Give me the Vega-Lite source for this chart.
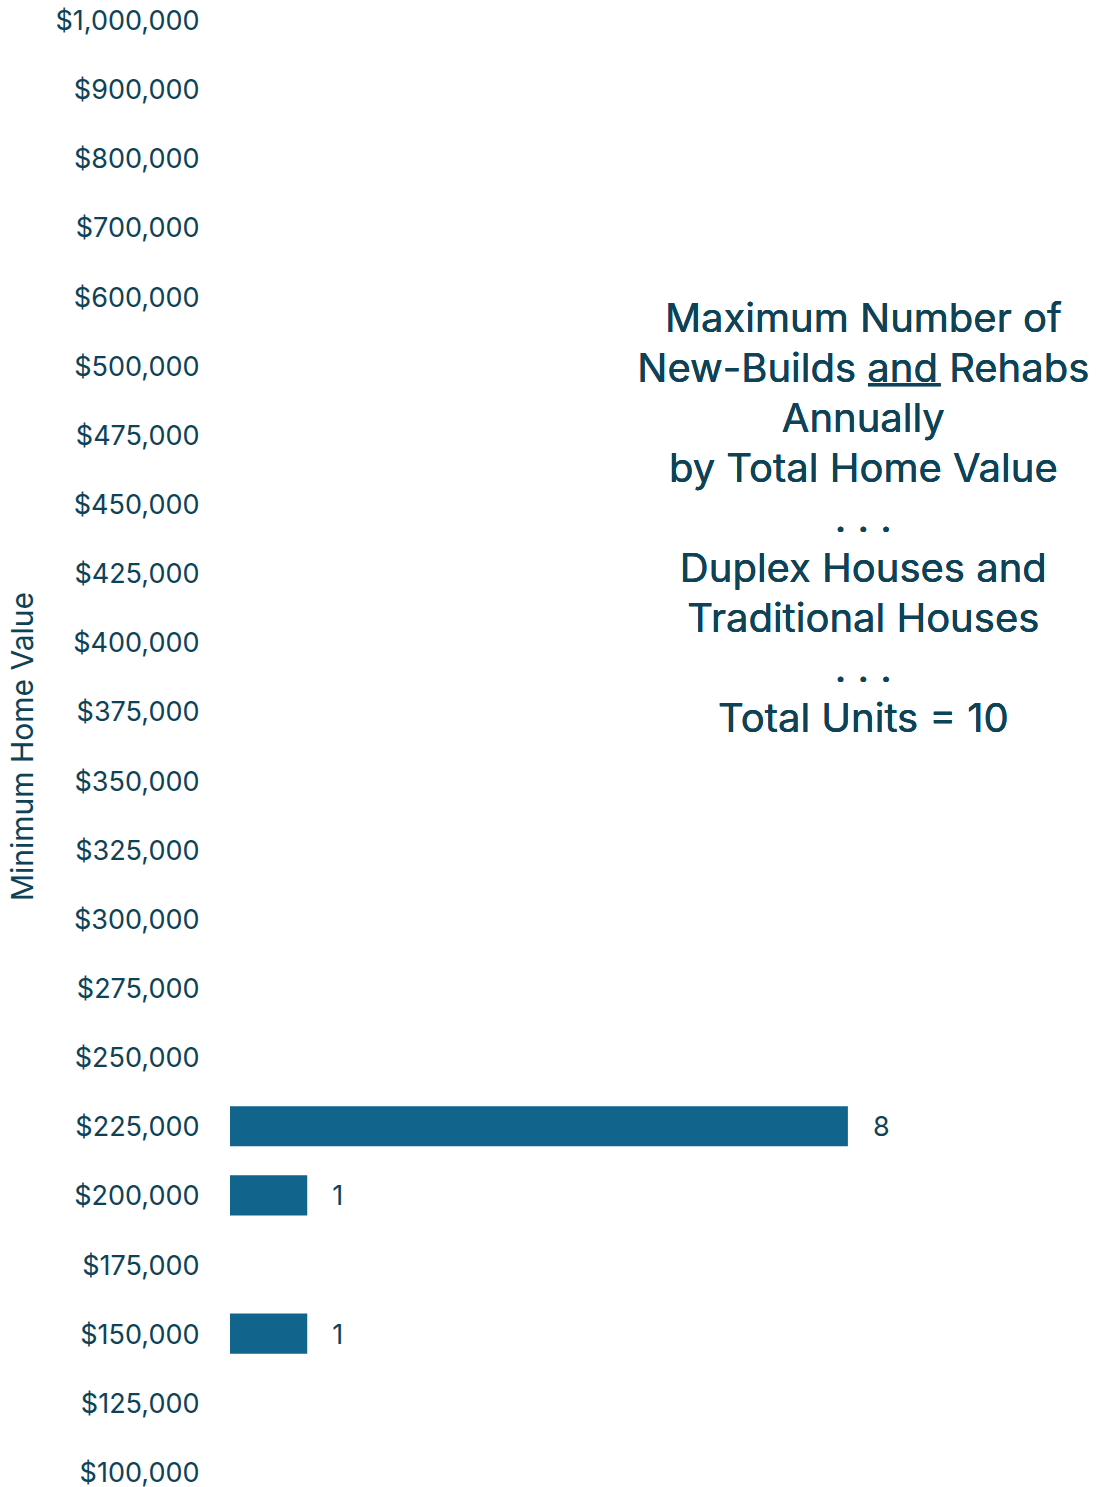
{
  "$schema": "https://vega.github.io/schema/vega-lite/v6.json",
  "width": 872,
  "height": 1492,
  "padding": {"left": 8, "top": 0, "right": 0, "bottom": 0},
  "autosize": {"type": "pad"},
  "background": "#ffffff",
  "config": {"view": {"stroke": null}, "font": "Inter"},
  "data": {"values": [
    {"value": "$225,000", "units": 8},
    {"value": "$200,000", "units": 1},
    {"value": "$150,000", "units": 1}
  ]},
  "encoding": {
    "y": {
      "field": "value", "type": "nominal",
      "scale": {"domain": ["$1,000,000","$900,000","$800,000","$700,000","$600,000","$500,000","$475,000","$450,000","$425,000","$400,000","$375,000","$350,000","$325,000","$300,000","$275,000","$250,000","$225,000","$200,000","$175,000","$150,000","$125,000","$100,000"], "paddingInner": 0.42, "paddingOuter": 0},
      "axis": {"title": "Minimum Home Value", "titleFont": "Inter", "titleFontSize": 30, "titleFontWeight": "normal", "titleColor": "#0d4257", "titlePadding": 16, "labelFont": "Inter", "labelFontSize": 27, "labelColor": "#0d4257", "labelPadding": 31, "labelOffset": 2, "ticks": false, "domain": false, "grid": false}
    },
    "x": {
      "field": "units", "type": "quantitative",
      "scale": {"domain": [0, 11.29], "nice": false},
      "axis": null
    }
  },
  "layer": [
    {"mark": {"type": "bar", "color": "#11648b"}},
    {"mark": {"type": "text", "align": "left", "baseline": "middle", "dx": 25, "dy": 2, "fontSize": 27, "color": "#0d4257", "font": "Inter"},
     "encoding": {"text": {"field": "units", "type": "quantitative"}}},
    {"mark": {"type": "text", "align": "center", "baseline": "middle", "dy": -46, "fontSize": 40, "lineHeight": 50, "color": "#0d4257", "font": "Inter",
      "text": ["Maximum Number of", "New-Builds and Rehabs", "Annually", "by Total Home Value", ". . .", "Duplex Houses and", "Traditional Houses", ". . .", "Total Units = 10"]},
     "encoding": {"x": {"datum": 8.2, "type": "quantitative"}, "y": {"datum": "$500,000", "type": "nominal"}}},
    {"mark": {"type": "rule", "color": "#0d4257", "strokeWidth": 3, "yOffset": 19},
     "encoding": {"x": {"datum": 8.26, "type": "quantitative"}, "x2": {"datum": 9.2}, "y": {"datum": "$500,000", "type": "nominal"}}}
  ]
}
